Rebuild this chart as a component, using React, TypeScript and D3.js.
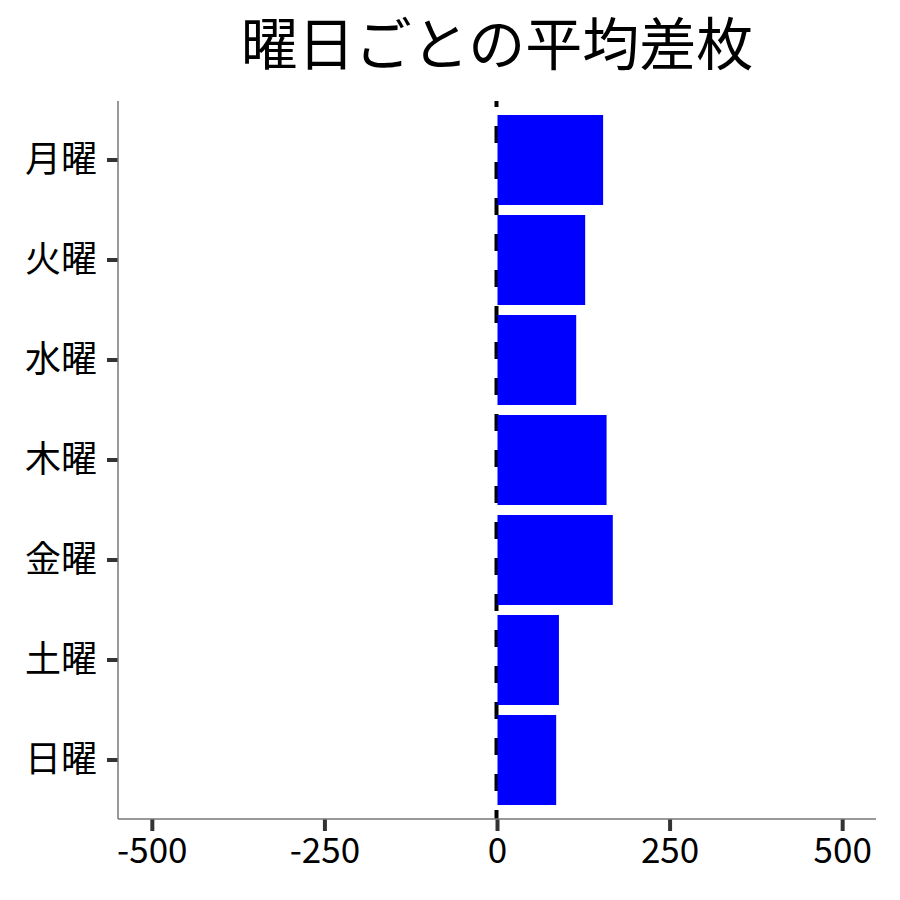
import React, { useEffect, useRef } from 'react';
import * as d3 from 'd3';

const days = ['月曜', '火曜', '水曜', '木曜', '金曜', '土曜', '日曜'];
const avgDiff = [153, 127, 114, 158, 167, 89, 85];
const xTicks = [-500, -250, 0, 250, 500];
const title = '曜日ごとの平均差枚';

const App: React.FC = () => {
  const svgRef = useRef<SVGSVGElement>(null);

  useEffect(() => {
    if (!svgRef.current) return;
    const svg = d3.select(svgRef.current);
    svg.selectAll('*').remove();

    const W = 900;
    const H = 900;
    const left = 118, right = 876, top = 101, bottom = 819;
    const font = '"Noto Sans CJK JP", "Noto Sans", sans-serif';

    svg.attr('width', W).attr('height', H).style('font-family', font);

    const x = d3.scaleLinear().domain([-549, 549]).range([left, right]);
    const y = d3.scaleBand<string>()
      .domain(days)
      .range([top + 9, bottom - 9])
      .paddingInner(0.1)
      .paddingOuter(0.05);

    // zero line (drawn under bars)
    svg.append('line')
      .attr('x1', x(0) - 0.5)
      .attr('x2', x(0) - 0.5)
      .attr('y1', top)
      .attr('y2', bottom)
      .attr('stroke', '#000')
      .attr('stroke-width', 4)
      .attr('stroke-dasharray', '17 19')
      .attr('stroke-dashoffset', 11);

    // bars
    svg.append('g')
      .selectAll('rect')
      .data(days)
      .join('rect')
      .attr('x', (d, i) => x(Math.min(0, avgDiff[i])) + 0.5)
      .attr('y', d => y(d)!)
      .attr('width', (d, i) => Math.abs(x(avgDiff[i]) - x(0)))
      .attr('height', y.bandwidth())
      .attr('fill', '#0000ff');

    // axes
    const xAxis = svg.append('g')
      .attr('transform', `translate(0,${bottom})`)
      .call(d3.axisBottom(x).tickValues(xTicks).tickSize(12).tickPadding(7).tickFormat(d3.format('d')));
    xAxis.select('.domain').remove();
    xAxis.selectAll('.tick line').attr('stroke', '#333').attr('stroke-width', 4);
    xAxis.selectAll('.tick text')
      .attr('fill', '#000')
      .style('font-size', '35px')
      .style('font-family', font)
      .text(d => String(d).replace('−', '-'));

    const yAxis = svg.append('g')
      .attr('transform', `translate(${left},0)`)
      .call(d3.axisLeft(y).tickSize(11).tickPadding(10));
    yAxis.select('.domain').remove();
    yAxis.selectAll('.tick line').attr('stroke', '#333').attr('stroke-width', 4);
    yAxis.selectAll('.tick text')
      .attr('fill', '#000')
      .style('font-size', '36px')
      .style('font-family', font);

    // spines
    svg.append('line')
      .attr('x1', left).attr('x2', left)
      .attr('y1', top).attr('y2', bottom)
      .attr('stroke', '#777').attr('stroke-width', 1.5);
    svg.append('line')
      .attr('x1', left).attr('x2', right)
      .attr('y1', bottom).attr('y2', bottom)
      .attr('stroke', '#777').attr('stroke-width', 1.5);

    // title
    svg.append('text')
      .attr('x', (left + right) / 2)
      .attr('y', 65)
      .attr('text-anchor', 'middle')
      .attr('fill', '#000')
      .style('font-size', '57px')
      .text(title);
  }, []);

  return (
    <div style={{ position: 'absolute', left: 0, top: 0, background: '#fff' }}>
      <svg ref={svgRef} style={{ display: 'block' }}></svg>
    </div>
  );
};

export default App;
